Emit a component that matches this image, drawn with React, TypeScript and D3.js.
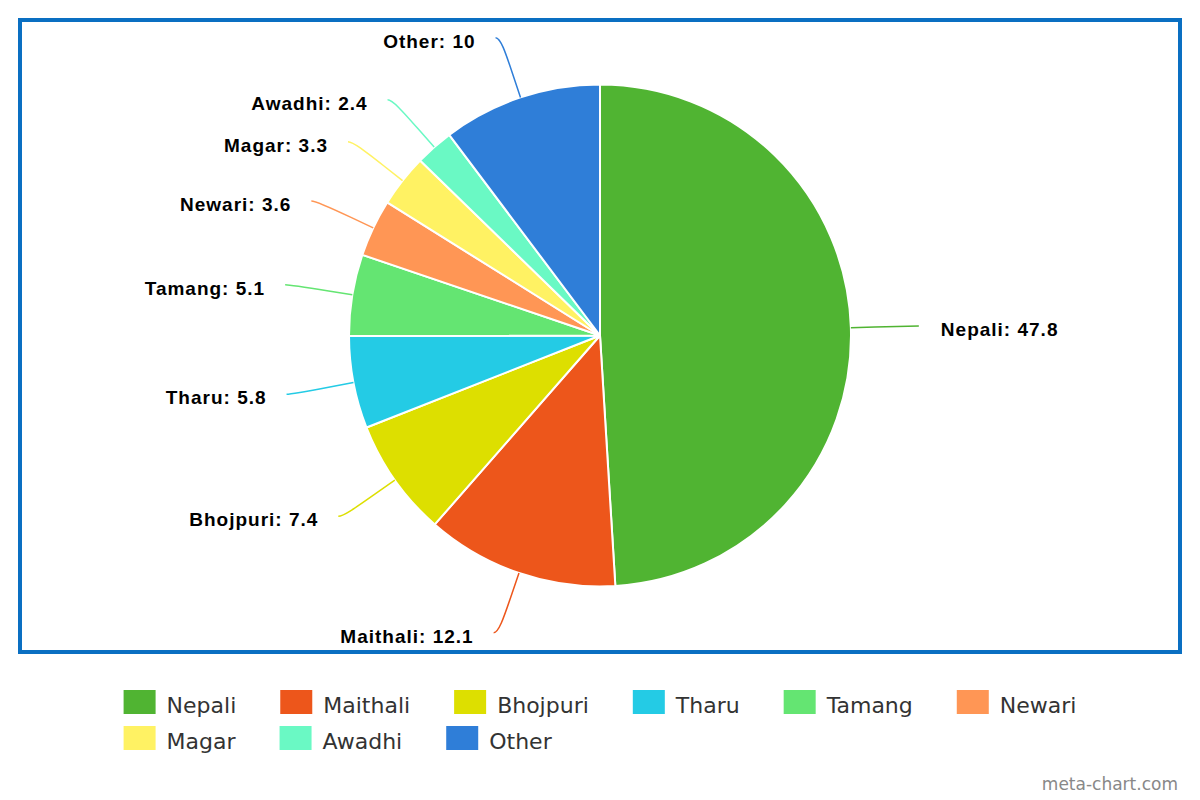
import React, { useEffect, useRef } from "react";
import * as d3 from "d3";

const categories = ["Nepali", "Maithali", "Bhojpuri", "Tharu", "Tamang", "Newari", "Magar", "Awadhi", "Other"];
const values = [47.8, 12.1, 7.4, 5.8, 5.1, 3.6, 3.3, 2.4, 10];
const colors = ["#50B432", "#ED561B", "#DDDF00", "#24CBE5", "#64E572", "#FF9655", "#FFF263", "#6AF9C4", "#2f7ed8"];

const W = 1200;
const H = 800;

export default function App() {
  const ref = useRef<SVGSVGElement | null>(null);

  useEffect(() => {
    const svg = d3.select(ref.current);
    svg.selectAll("*").remove();

    // frame
    svg.append("rect").attr("x", 20).attr("y", 20).attr("width", 1160).attr("height", 632)
      .attr("fill", "none").attr("stroke", "#0a6fc2").attr("stroke-width", 4);

    const cx = 600, cy = 335.5, r = 251, dist = 63, elbow = 24;
    const data = categories.map((c, i) => ({ name: c, value: values[i], color: colors[i] }));
    const pie = d3.pie<any>().sort(null).value((d: any) => d.value).startAngle(0).endAngle(2 * Math.PI);
    const arcs = pie(data);
    const arc = d3.arc<any>().innerRadius(0).outerRadius(r);

    const g = svg.append("g").attr("transform", `translate(${cx},${cy})`);
    g.selectAll("path.slice").data(arcs).enter().append("path")
      .attr("class", "slice")
      .attr("d", arc as any)
      .attr("fill", (d: any) => d.data.color)
      .attr("stroke", "#fff").attr("stroke-width", 2).attr("stroke-linejoin", "round");

    const lg = g.append("g");
    arcs.forEach((a: any) => {
      const mid = (a.startAngle + a.endAngle) / 2;
      const sx = Math.sin(mid), sy = -Math.cos(mid);
      const left = sx < 0;
      const R = r + dist;
      const y = sy * R;
      const x = (left ? -1 : 1) * Math.sqrt(Math.max(0, R * R - y * y));
      const edge = [sx * r, sy * r];
      const elb = [sx * (r + elbow), sy * (r + elbow)];
      const tipX = x + (left ? -5 : 5);
      const path = `M${tipX},${y} C${x},${y} ${2 * elb[0] - edge[0]},${2 * elb[1] - edge[1]} ${elb[0]},${elb[1]} L${edge[0]},${edge[1]}`;
      lg.append("path").attr("d", path).attr("fill", "none")
        .attr("stroke", a.data.color).attr("stroke-width", 1.5);
      lg.append("text")
        .attr("x", left ? x - 25 : x + 27)
        .attr("y", y + 10)
        .attr("text-anchor", left ? "end" : "start")
        .attr("font-family", "'Liberation Sans', Arial, sans-serif")
        .attr("font-weight", "bold")
        .attr("font-size", 19)
        .attr("letter-spacing", 1)
        .attr("fill", "#000")
        .text(`${a.data.name}: ${a.data.value}`);
    });

    // legend (flow layout)
    const leg = svg.append("g");
    const swW = 32, swH = 24, gapT = 11, gapItem = 44, rowH = 36, maxW = 1000;
    const items: { g: any; w: number }[] = [];
    data.forEach((d) => {
      const ig = leg.append("g");
      ig.append("rect").attr("width", swW).attr("height", swH).attr("fill", d.color);
      const t = ig.append("text").attr("x", swW + gapT).attr("y", 23)
        .attr("font-family", "'DejaVu Sans', Verdana, sans-serif")
        .attr("font-size", 22).attr("fill", "#333").text(d.name);
      const tw = (t.node() as SVGTextElement).getComputedTextLength();
      items.push({ g: ig, w: swW + gapT + tw });
    });
    const rows: { g: any; w: number }[][] = [[]];
    let rw = 0;
    items.forEach((it) => {
      const add = (rows[rows.length - 1].length ? gapItem : 0) + it.w;
      if (rw + add > maxW && rows[rows.length - 1].length) {
        rows.push([it]);
        rw = it.w;
      } else {
        rows[rows.length - 1].push(it);
        rw += add;
      }
    });
    const firstW = rows[0].reduce((s, it, i) => s + it.w + (i ? gapItem : 0), 0);
    const x0 = (W - firstW) / 2;
    rows.forEach((row, ri) => {
      let x = x0;
      row.forEach((it) => {
        it.g.attr("transform", `translate(${x},${690 + ri * rowH})`);
        x += it.w + gapItem;
      });
    });

    svg.append("text").attr("x", 1178).attr("y", 790).attr("text-anchor", "end")
      .attr("font-family", "'DejaVu Sans', Verdana, sans-serif")
      .attr("font-size", 17).attr("fill", "#888").text("meta-chart.com");
  }, []);

  return (
    <svg ref={ref} width={W} height={H}
      style={{ position: "absolute", left: 0, top: 0, background: "#fff" }} />
  );
}
